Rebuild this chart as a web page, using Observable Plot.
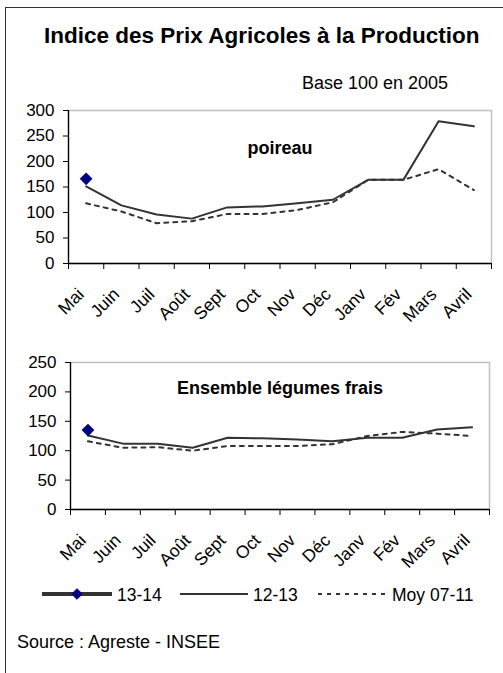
<!DOCTYPE html>
<html>
<head>
<meta charset="utf-8">
<script src="https://cdn.jsdelivr.net/npm/d3@7"></script>
<script src="https://cdn.jsdelivr.net/npm/@observablehq/plot@0.6"></script>
<style>
  html, body { margin: 0; padding: 0; background: #fff; }
  body { width: 503px; height: 673px; position: relative; overflow: hidden;
         font-family: "Liberation Sans", Arial, Helvetica, sans-serif; color: #000; }
  .abs { position: absolute; white-space: nowrap; }
  #frame { position: absolute; left: 5px; top: 7px; width: 520px; height: 700px; border: 1.6px solid #333; box-sizing: border-box; }
  #title { left: 44px; top: 25px; font-size: 22.5px; line-height: 22px; font-weight: bold; }
  #sub { left: 302px; top: 74px; font-size: 18px; line-height: 18px; }
  #source { left: 17px; top: 633px; font-size: 18px; line-height: 18px; }
  #top, #bottom { position: absolute; left: 0; }
  #top { top: 90px; }
  #bottom { top: 340px; }
  svg { overflow: visible; }
  #legend { position: absolute; left: 0; top: 580px; }
</style>
</head>
<body>
<div id="frame"></div>
<div id="title" class="abs">Indice des Prix Agricoles à la Production</div>
<div id="sub" class="abs">Base 100 en 2005</div>
<div id="top"></div>
<div id="bottom"></div>
<svg id="legend" width="503" height="30"></svg>
<div id="source" class="abs">Source : Agreste - INSEE</div>
<script>
const months = ["Mai","Juin","Juil","Août","Sept","Oct","Nov","Déc","Janv","Fév","Mars","Avril"];
const seriesNames = ["13-14", "12-13", "Moy 07-11"];

const poireau1314 = [166];
const poireau1213 = [151,114,96,88,110,112,118,125,164,164,279,269];
const poireauMoy  = [118,102,79,83,97,97,105,120,164,164,185,144];

const legumes1314 = [135];
const legumes1213 = [126,112,112,105,122,121,119,116,122,122,136,140];
const legumesMoy  = [116,105,106,100,108,108,108,111,125,132,129,125];

const yTicksTop = [0,50,100,150,200,250,300];
const yTicksBottom = [0,50,100,150,200,250];

const FONT = '"Liberation Sans", Arial, Helvetica, sans-serif';

function chart({s1314, s1213, sMoy, yMax, yTicks, label, labelDy, height, marginTop, marginLeft, marginRight, marginBottom}) {
  const rows = months.map((m, i) => ({i, m, a: s1213[i], b: sMoy[i]}));
  const cur = s1314.map((v, i) => ({i, v}));
  return Plot.plot({
    width: 503, height, marginTop, marginLeft, marginRight, marginBottom,
    style: {fontFamily: FONT, fontSize: "17px", color: "#000", background: "transparent", overflow: "visible"},
    x: {domain: [0, 12], axis: null, label: null},
    y: {domain: [0, yMax], axis: null, label: null},
    marks: [
      Plot.frame({stroke: "#c0c0c0", strokeWidth: 1.5}),
      Plot.axisY({ticks: yTicks, tickSize: 5, tickPadding: 9, tickFormat: d => d, label: null, stroke: "#000"}),
      Plot.axisX({ticks: d3.range(13), tickSize: 6, tickFormat: () => "", label: null, stroke: "#000"}),
      Plot.axisX({ticks: d3.range(12).map(i => i + 0.5), tickFormat: t => months[Math.floor(t)], tickRotate: -45, tickSize: 0, tickPadding: 28, dx: -5, label: null, fontSize: 17.5}),
      Plot.ruleX([0], {stroke: "#000", strokeWidth: 1.3}),
      Plot.ruleY([0], {stroke: "#000", strokeWidth: 1.3}),
      Plot.lineY(rows, {x: d => d.i + 0.5, y: "b", stroke: "#333", strokeWidth: 2, strokeDasharray: "4,5"}),
      Plot.lineY(rows, {x: d => d.i + 0.5, y: "a", stroke: "#333", strokeWidth: 2}),
      Plot.dot(cur, {x: d => d.i + 0.5, y: "v", symbol: "diamond2", r: 4.8, fill: "#000080", stroke: "#000080"}),
      Plot.text([label], {text: d => d, frameAnchor: "top", dy: labelDy, fontWeight: "bold", fontSize: 18})
    ]
  });
}

document.getElementById("top").append(chart({
  s1314: poireau1314, s1213: poireau1213, sMoy: poireauMoy, yMax: 300, yTicks: yTicksTop,
  label: "poireau", labelDy: 31, height: 223, marginTop: 20, marginLeft: 68, marginRight: 12, marginBottom: 50
}));
document.getElementById("bottom").append(chart({
  s1314: legumes1314, s1213: legumes1213, sMoy: legumesMoy, yMax: 250, yTicks: yTicksBottom,
  label: "Ensemble légumes frais", labelDy: 19, height: 219, marginTop: 22, marginLeft: 70, marginRight: 14, marginBottom: 50
}));

// Legend
const lg = d3.select("#legend");
const items = [
  {name: seriesNames[0], x1: 42, x2: 112, w: 4, dash: null, diamond: true, tx: 117},
  {name: seriesNames[1], x1: 180, x2: 248, w: 2, dash: null, diamond: false, tx: 253},
  {name: seriesNames[2], x1: 318, x2: 390, w: 2, dash: "4,5", diamond: false, tx: 392}
];
for (const it of items) {
  lg.append("line").attr("x1", it.x1).attr("x2", it.x2).attr("y1", 14).attr("y2", 14)
    .attr("stroke", "#333").attr("stroke-width", it.w).attr("stroke-dasharray", it.dash);
  if (it.diamond) {
    lg.append("path").attr("d", d3.symbol(d3.symbolDiamond2, 72)()).attr("transform", `translate(${(it.x1 + it.x2) / 2},14)`)
      .attr("fill", "#000080").attr("stroke", "#000080");
  }
  lg.append("text").attr("x", it.tx).attr("y", 21).attr("font-family", FONT).attr("font-size", 17.5).text(it.name);
}
</script>
</body>
</html>
